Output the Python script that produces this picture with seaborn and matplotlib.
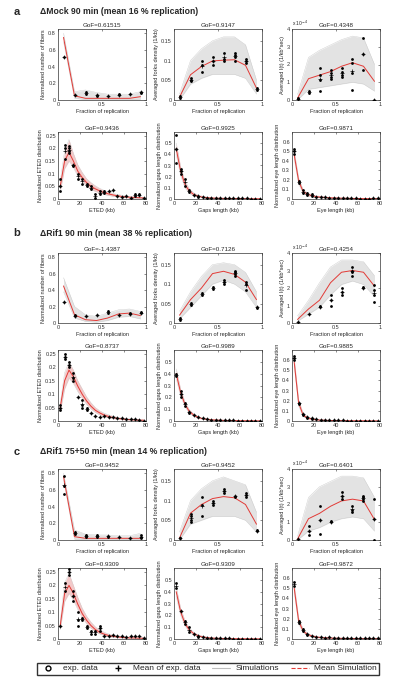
import matplotlib
matplotlib.use("Agg")
import matplotlib.pyplot as plt
from matplotlib.lines import Line2D
from matplotlib.ticker import FuncFormatter
import numpy as np
import pandas as pd
import seaborn as sns

# ── Data ─────────────────────────────────────────────────────────────

frac_x = [0.0625, 0.1875, 0.3125, 0.4375, 0.5625, 0.6875, 0.8125, 0.9375]
len_x = [2, 6, 10, 14, 18, 22, 26, 30, 34, 38, 42, 46, 50, 54, 58, 62, 66, 70, 74, 78]

panel_titles = [
    "\u0394Mock 90 min (mean 16 % replication)",
    "\u0394Rif1 90 min (mean 38 % replication)",
    "\u0394Rif1 75+50 min (mean 14 % replication)",
]
gof_a = ["GoF=0.61515", "GoF=0.9147", "GoF=0.4348", "GoF=0.9436", "GoF=0.9925", "GoF=0.9871"]
gof_b = ["GoF=-1.4387", "GoF=0.7126", "GoF=0.4254", "GoF=0.8737", "GoF=0.9989", "GoF=0.9885"]
gof_c = ["GoF=0.9452", "GoF=0.9452", "GoF=0.6401", "GoF=0.9309", "GoF=0.9309", "GoF=0.9872"]

# panel a
a_fib_sim = [0.75, 0.05, 0.02, 0.02, 0.02, 0.02, 0.02, 0.04]
a_fib_lo = [0.70, 0.02, 0.005, 0.005, 0.005, 0.005, 0.005, 0.01]
a_fib_hi = [0.80, 0.10, 0.12, 0.09, 0.07, 0.07, 0.07, 0.10]
a_fib_exp = [[0.51], [0.06], [0.07, 0.10], [0.05, 0.06], [0.05], [0.06, 0.07], [0.07], [0.08, 0.10]]

a_fork_sim = [0.007, 0.064, 0.085, 0.099, 0.101, 0.102, 0.088, 0.03]
a_fork_lo = [0.0, 0.04, 0.055, 0.065, 0.065, 0.065, 0.055, 0.015]
a_fork_hi = [0.015, 0.10, 0.13, 0.15, 0.16, 0.16, 0.14, 0.05]
a_fork_exp = [[0.005, 0.01], [0.047, 0.05, 0.055], [0.07, 0.09, 0.10], [0.09, 0.10, 0.11],
              [0.10, 0.105, 0.12], [0.10, 0.11, 0.115, 0.12], [0.095, 0.10, 0.105], [0.025, 0.03]]

a_it_sim = [0.1, 1.2, 1.4, 1.6, 1.9, 2.1, 1.9, 1.05]
a_it_lo = [0.0, 0.6, 0.7, 0.8, 0.9, 1.0, 0.9, 0.5]
a_it_hi = [0.3, 2.4, 2.8, 3.1, 3.4, 3.6, 3.5, 2.0]
a_it_exp = [[0.05, 0.1], [0.4, 0.5], [0.5, 1.1, 1.4, 1.8], [1.2, 1.3, 1.5, 1.7],
            [1.3, 1.4, 1.6, 1.8], [0.55, 1.5, 2.1, 2.3], [1.7, 2.6, 3.5], [0.0]]

a_eted_sim = [0.05, 0.15, 0.185, 0.15, 0.11, 0.085, 0.065, 0.05, 0.04, 0.032, 0.025, 0.02,
              0.016, 0.013, 0.010, 0.008, 0.007, 0.006, 0.005, 0.004]
a_eted_lo = [0.03, 0.12, 0.15, 0.125, 0.09, 0.07, 0.05, 0.038, 0.03, 0.024, 0.018, 0.014,
             0.011, 0.009, 0.007, 0.005, 0.004, 0.003, 0.003, 0.002]
a_eted_hi = [0.07, 0.19, 0.235, 0.18, 0.135, 0.105, 0.08, 0.065, 0.052, 0.042, 0.034, 0.028,
             0.022, 0.018, 0.015, 0.012, 0.01, 0.009, 0.008, 0.007]
a_eted_exp = [[0.03, 0.05, 0.08], [0.16, 0.20, 0.215], [0.18, 0.19, 0.20, 0.21], [0.13, 0.135],
              [0.08, 0.10], [0.06, 0.08], [0.05, 0.06], [0.04, 0.05], [0.005, 0.02], [0.02, 0.03],
              [0.025, 0.03], [0.03], [0.035], [0.01], [0.008], [0.01], [0.005], [0.01, 0.02],
              [0.015, 0.02], [0.005]]

a_gap_sim = [0.45, 0.25, 0.13, 0.07, 0.04, 0.025, 0.017, 0.012, 0.009, 0.007, 0.006, 0.005,
             0.004, 0.004, 0.003, 0.003, 0.002, 0.002, 0.002, 0.002]
a_gap_lo = [0.40, 0.21, 0.10, 0.05, 0.028, 0.016, 0.01, 0.007, 0.005, 0.004, 0.003, 0.002,
            0.002, 0.002, 0.001, 0.001, 0.001, 0.001, 0.001, 0.001]
a_gap_hi = [0.50, 0.29, 0.16, 0.09, 0.055, 0.036, 0.025, 0.018, 0.014, 0.011, 0.009, 0.008,
            0.007, 0.006, 0.005, 0.005, 0.004, 0.004, 0.003, 0.003]
a_gap_exp = [[0.32, 0.45, 0.57], [0.22, 0.25, 0.27], [0.12, 0.18], [0.06, 0.08], [0.04],
             [0.02, 0.03], [0.015], [0.01], [0.01], [0.01], [0.008], [0.01], [0.008], [0.006],
             [0.006], [0.005], [0.005], [0.004], [0.004], [0.003]]

a_eye_sim = [0.46, 0.19, 0.08, 0.05, 0.035, 0.025, 0.02, 0.016, 0.013, 0.011, 0.009, 0.008,
             0.007, 0.006, 0.005, 0.005, 0.004, 0.004, 0.003, 0.003]
a_eye_lo = [0.42, 0.16, 0.06, 0.035, 0.024, 0.017, 0.013, 0.01, 0.008, 0.006, 0.005, 0.004,
            0.004, 0.003, 0.003, 0.002, 0.002, 0.002, 0.001, 0.001]
a_eye_hi = [0.50, 0.22, 0.10, 0.065, 0.046, 0.034, 0.027, 0.022, 0.018, 0.015, 0.013, 0.011,
            0.01, 0.009, 0.008, 0.007, 0.006, 0.006, 0.005, 0.005]
a_eye_exp = [[0.47, 0.50, 0.52], [0.17, 0.19], [0.06, 0.09], [0.04, 0.06], [0.03, 0.05], [0.02],
             [0.02], [0.02], [0.015], [0.015], [0.012], [0.01], [0.01], [0.008], [0.006],
             [0.005], [0.005], [0.005], [0.01], [0.01]]

# panel b
b_fib_sim = [0.45, 0.10, 0.04, 0.03, 0.06, 0.11, 0.12, 0.09]
b_fib_lo = [0.38, 0.06, 0.02, 0.01, 0.03, 0.07, 0.08, 0.05]
b_fib_hi = [0.55, 0.20, 0.10, 0.08, 0.12, 0.16, 0.17, 0.14]
b_fib_exp = [[0.25], [0.08, 0.10], [0.08], [0.10], [0.12, 0.14], [0.10], [0.11, 0.12], [0.12, 0.13]]

b_fork_sim = [0.02, 0.06, 0.09, 0.127, 0.133, 0.125, 0.105, 0.06]
b_fork_lo = [0.01, 0.04, 0.07, 0.10, 0.11, 0.10, 0.08, 0.04]
b_fork_hi = [0.03, 0.08, 0.12, 0.15, 0.155, 0.15, 0.13, 0.08]
b_fork_exp = [[0.008, 0.012], [0.047, 0.052], [0.072, 0.076], [0.088, 0.093], [0.10, 0.105, 0.11],
              [0.12, 0.125, 0.13, 0.135], [0.085, 0.10, 0.105], [0.038, 0.042]]

b_it_sim = [0.2, 0.8, 1.3, 2.3, 2.9, 3.0, 2.9, 2.1]
b_it_lo = [0.1, 0.5, 0.9, 1.6, 2.2, 2.4, 2.2, 1.5]
b_it_hi = [0.4, 1.3, 2.3, 3.2, 3.6, 3.6, 3.5, 2.7]
b_it_exp = [[0.05], [0.5], [0.9, 0.95], [1.0, 1.3, 1.6], [1.6, 1.8, 2.0], [2.7, 2.9, 3.0, 3.2],
            [2.0, 2.05], [1.2, 1.6, 1.9, 2.2]]

b_eted_sim = [0.05, 0.15, 0.19, 0.165, 0.13, 0.10, 0.075, 0.055, 0.04, 0.03, 0.022, 0.017,
              0.013, 0.010, 0.008, 0.006, 0.005, 0.004, 0.003, 0.003]
b_eted_lo = [0.035, 0.12, 0.16, 0.14, 0.11, 0.085, 0.062, 0.045, 0.032, 0.023, 0.016, 0.012,
             0.009, 0.007, 0.005, 0.004, 0.003, 0.002, 0.002, 0.001]
b_eted_hi = [0.065, 0.18, 0.22, 0.19, 0.15, 0.12, 0.09, 0.068, 0.05, 0.038, 0.029, 0.023,
             0.018, 0.014, 0.011, 0.009, 0.008, 0.007, 0.006, 0.005]
b_eted_exp = [[0.04, 0.05, 0.06], [0.23, 0.24, 0.25], [0.20, 0.21, 0.22], [0.15, 0.16, 0.18],
              [0.09], [0.05, 0.06, 0.08], [0.04, 0.05], [0.03], [0.02], [0.015], [0.02], [0.015],
              [0.015], [0.01], [0.01], [0.008], [0.006], [0.006], [0.005], [0.0]]

b_gap_sim = [0.40, 0.24, 0.14, 0.08, 0.05, 0.03, 0.02, 0.015, 0.01, 0.008, 0.006, 0.005,
             0.004, 0.003, 0.003, 0.002, 0.002, 0.002, 0.001, 0.001]
b_gap_lo = [0.36, 0.21, 0.12, 0.065, 0.04, 0.023, 0.015, 0.01, 0.007, 0.005, 0.004, 0.003,
            0.002, 0.002, 0.001, 0.001, 0.001, 0.001, 0.0, 0.0]
b_gap_hi = [0.44, 0.27, 0.16, 0.095, 0.06, 0.038, 0.026, 0.02, 0.014, 0.011, 0.009, 0.007,
            0.006, 0.005, 0.004, 0.004, 0.003, 0.003, 0.002, 0.002]
b_gap_exp = [[0.38, 0.40], [0.20, 0.23, 0.25], [0.13, 0.15], [0.07, 0.08], [0.05], [0.03],
             [0.025], [0.015], [0.01], [0.01], [0.008], [0.006], [0.005], [0.005], [0.004],
             [0.004], [0.003], [0.003], [0.002], [0.002]]

b_eye_sim = [0.58, 0.18, 0.06, 0.03, 0.02, 0.012, 0.009, 0.007, 0.005, 0.004, 0.004, 0.003,
             0.003, 0.002, 0.002, 0.002, 0.002, 0.001, 0.001, 0.001]
b_eye_lo = [0.54, 0.15, 0.045, 0.02, 0.012, 0.007, 0.005, 0.004, 0.003, 0.002, 0.002, 0.001,
            0.001, 0.001, 0.001, 0.001, 0.0, 0.0, 0.0, 0.0]
b_eye_hi = [0.62, 0.21, 0.08, 0.042, 0.028, 0.018, 0.014, 0.011, 0.008, 0.007, 0.006, 0.005,
            0.005, 0.004, 0.004, 0.003, 0.003, 0.003, 0.002, 0.002]
b_eye_exp = [[0.60, 0.62, 0.64], [0.17, 0.18], [0.06, 0.07], [0.03, 0.04], [0.02, 0.03], [0.015],
             [0.01], [0.01], [0.008], [0.006], [0.005], [0.005], [0.004], [0.004], [0.003],
             [0.003], [0.003], [0.002], [0.002], [0.002]]

# panel c
c_fib_sim = [0.76, 0.04, 0.02, 0.02, 0.02, 0.02, 0.02, 0.02]
c_fib_lo = [0.72, 0.01, 0.005, 0.005, 0.005, 0.005, 0.005, 0.005]
c_fib_hi = [0.80, 0.12, 0.07, 0.06, 0.06, 0.05, 0.05, 0.08]
c_fib_exp = [[0.55, 0.65, 0.77], [0.07, 0.10], [0.03, 0.05, 0.06], [0.04, 0.05, 0.06],
             [0.04, 0.05], [0.03], [0.02], [0.02, 0.03, 0.06]]

c_fork_sim = [0.005, 0.068, 0.09, 0.105, 0.11, 0.107, 0.09, 0.04]
c_fork_lo = [0.0, 0.04, 0.05, 0.06, 0.06, 0.06, 0.05, 0.02]
c_fork_hi = [0.02, 0.10, 0.13, 0.15, 0.16, 0.15, 0.14, 0.07]
c_fork_exp = [[0.004, 0.006], [0.045, 0.05, 0.06, 0.065], [0.06, 0.09, 0.11], [0.09, 0.095, 0.10],
              [0.12, 0.125, 0.13], [0.11, 0.112], [0.11, 0.115, 0.12], [0.022, 0.025]]

c_it_sim = [0.05, 1.2, 1.5, 1.9, 2.2, 2.3, 2.2, 1.15]
c_it_lo = [0.0, 0.5, 0.7, 1.0, 1.2, 1.3, 1.2, 0.5]
c_it_hi = [0.2, 2.4, 3.0, 3.3, 3.6, 3.6, 3.5, 2.4]
c_it_exp = [[0.05], [0.3, 0.5, 0.8], [0.35, 1.1, 1.9], [1.0, 1.05], [2.3, 2.5, 2.7],
            [1.6, 1.7, 1.9], [2.2, 2.3, 2.4, 2.5], [0.0, 1.2, 2.3]]

c_eted_sim = [0.05, 0.17, 0.20, 0.17, 0.13, 0.095, 0.07, 0.05, 0.035, 0.025, 0.018, 0.013,
              0.010, 0.008, 0.006, 0.005, 0.004, 0.004, 0.003, 0.003]
c_eted_lo = [0.035, 0.14, 0.17, 0.145, 0.11, 0.08, 0.057, 0.04, 0.027, 0.019, 0.013, 0.009,
             0.007, 0.005, 0.004, 0.003, 0.002, 0.002, 0.001, 0.001]
c_eted_hi = [0.065, 0.21, 0.245, 0.20, 0.155, 0.115, 0.085, 0.063, 0.045, 0.034, 0.025, 0.019,
             0.015, 0.012, 0.01, 0.008, 0.007, 0.006, 0.005, 0.005]
c_eted_exp = [[0.05], [0.18, 0.21], [0.24, 0.25, 0.26], [0.14, 0.16, 0.18], [0.05, 0.07, 0.10],
              [0.07, 0.08], [0.04, 0.05], [0.02, 0.03], [0.02, 0.03], [0.03, 0.04, 0.05], [0.01],
              [0.01], [0.015], [0.01], [0.01], [0.008], [0.01], [0.01], [0.012], [0.005]]

c_gap_sim = [0.40, 0.23, 0.13, 0.075, 0.045, 0.028, 0.018, 0.012, 0.008, 0.006, 0.005, 0.004,
             0.003, 0.003, 0.002, 0.002, 0.002, 0.001, 0.001, 0.001]
c_gap_lo = [0.36, 0.20, 0.11, 0.06, 0.035, 0.02, 0.012, 0.008, 0.005, 0.004, 0.003, 0.002,
            0.002, 0.001, 0.001, 0.001, 0.001, 0.0, 0.0, 0.0]
c_gap_hi = [0.44, 0.26, 0.155, 0.09, 0.056, 0.036, 0.025, 0.018, 0.013, 0.01, 0.008, 0.007,
            0.006, 0.005, 0.004, 0.004, 0.003, 0.003, 0.002, 0.002]
c_gap_exp = [[0.43, 0.47], [0.24], [0.13, 0.15], [0.06, 0.10], [0.04], [0.02, 0.025], [0.02],
             [0.01], [0.01], [0.008], [0.006], [0.005], [0.005], [0.004], [0.004], [0.003],
             [0.003], [0.003], [0.002], [0.002]]

c_eye_sim = [0.50, 0.18, 0.08, 0.045, 0.03, 0.02, 0.015, 0.012, 0.01, 0.008, 0.007, 0.006,
             0.005, 0.005, 0.004, 0.004, 0.003, 0.003, 0.003, 0.002]
c_eye_lo = [0.46, 0.15, 0.065, 0.035, 0.022, 0.014, 0.01, 0.008, 0.006, 0.005, 0.004, 0.003,
            0.003, 0.002, 0.002, 0.002, 0.001, 0.001, 0.001, 0.001]
c_eye_hi = [0.54, 0.21, 0.10, 0.058, 0.04, 0.028, 0.021, 0.017, 0.014, 0.012, 0.01, 0.009,
            0.008, 0.007, 0.006, 0.006, 0.005, 0.005, 0.004, 0.004]
c_eye_exp = [[0.52, 0.56], [0.16, 0.18], [0.08, 0.10], [0.04, 0.05], [0.03], [0.02], [0.015],
             [0.012], [0.02], [0.01], [0.01], [0.01], [0.008], [0.008], [0.01], [0.01], [0.005],
             [0.005], [0.005], [0.005]]

# ── Theme ────────────────────────────────────────────────────────────

sns.set_theme(style="white")
plt.rcParams["font.family"] = ["Liberation Sans", "DejaVu Sans"]
plt.rcParams.update({
    "xtick.direction": "in",
    "ytick.direction": "in",
    "xtick.major.size": 1.5,
    "ytick.major.size": 1.5,
    "xtick.major.width": 0.4,
    "ytick.major.width": 0.4,
    "xtick.major.pad": 1.5,
    "ytick.major.pad": 1.5,
    "axes.linewidth": 0.5,
    "axes.edgecolor": "#333333",
})

RED = "#e23a36"
GREY_BAND = "#dedede"
PINK_BAND = "#f1c0c0"
W, H = 398, 688

# per-column axis setup: (xlabel, ylabel, ylim, yticks)
top_cols = [
    ("Fraction of replication", "Normalized number of fibers", (0, 0.85), [0, 0.2, 0.4, 0.6, 0.8]),
    ("Fraction of replication", "Averaged forks density (1/kb)", (0, 0.18), [0, 0.05, 0.1, 0.15]),
    ("Fraction of replication", "Averaged I(t) (1/kb*sec)", (0, 4), [0, 1, 2, 3, 4]),
]
bot_cols = [
    ("ETED (kb)", "Normalized ETED distribution", (0, 0.265), [0, 0.05, 0.1, 0.15, 0.2, 0.25]),
    ("Gaps length (kb)", "Normalized gaps length distribution", (0, 0.6), [0, 0.1, 0.2, 0.3, 0.4, 0.5]),
    ("Eye length (kb)", "Normalized eye length distribution", (0, 0.7), [0, 0.1, 0.2, 0.3, 0.4, 0.5, 0.6]),
]

panels = [
    ("a", gof_a, [(a_fib_sim, a_fib_lo, a_fib_hi, a_fib_exp),
                  (a_fork_sim, a_fork_lo, a_fork_hi, a_fork_exp),
                  (a_it_sim, a_it_lo, a_it_hi, a_it_exp)],
                 [(a_eted_sim, a_eted_lo, a_eted_hi, a_eted_exp),
                  (a_gap_sim, a_gap_lo, a_gap_hi, a_gap_exp),
                  (a_eye_sim, a_eye_lo, a_eye_hi, a_eye_exp)]),
    ("b", gof_b, [(b_fib_sim, b_fib_lo, b_fib_hi, b_fib_exp),
                  (b_fork_sim, b_fork_lo, b_fork_hi, b_fork_exp),
                  (b_it_sim, b_it_lo, b_it_hi, b_it_exp)],
                 [(b_eted_sim, b_eted_lo, b_eted_hi, b_eted_exp),
                  (b_gap_sim, b_gap_lo, b_gap_hi, b_gap_exp),
                  (b_eye_sim, b_eye_lo, b_eye_hi, b_eye_exp)]),
    ("c", gof_c, [(c_fib_sim, c_fib_lo, c_fib_hi, c_fib_exp),
                  (c_fork_sim, c_fork_lo, c_fork_hi, c_fork_exp),
                  (c_it_sim, c_it_lo, c_it_hi, c_it_exp)],
                 [(c_eted_sim, c_eted_lo, c_eted_hi, c_eted_exp),
                  (c_gap_sim, c_gap_lo, c_gap_hi, c_gap_exp),
                  (c_eye_sim, c_eye_lo, c_eye_hi, c_eye_exp)]),
]

# pixel layout
col_left = [58, 174, 292]
col_width = 88
row_tops = [(29, 100, 132, 199), (253, 323, 350, 421), (469, 540, 568, 639)]
label_y = [12, 233, 452]

fmt = FuncFormatter(lambda v, p: f"{v:g}")


def px_axes(fig, left, top, bottom):
    return fig.add_axes([left / W, 1 - bottom / H, col_width / W, (bottom - top) / H])


def draw(ax, x, sim, lo, hi, exp, band):
    ax.fill_between(x, lo, hi, color=band, lw=0, alpha=0.85)
    ax.plot(x, lo, color="#cacaca", lw=0.3)
    ax.plot(x, hi, color="#cacaca", lw=0.3)
    rows = [(xv, yv) for xv, vals in zip(x, exp) for yv in vals]
    df = pd.DataFrame(rows, columns=["x", "y"])
    sns.scatterplot(data=df, x="x", y="y", ax=ax, marker="o", s=4, color="black",
                    linewidth=0, legend=False, zorder=4)
    means = df.groupby("x", as_index=False)["y"].mean()
    sns.scatterplot(data=means, x="x", y="y", ax=ax, marker="+", s=7, color="black",
                    linewidth=0.5, legend=False, zorder=5)
    sns.lineplot(x=x, y=sim, ax=ax, color=RED, lw=0.7, zorder=3)


def style(ax, xlabel, ylabel, ylim, yticks, xlim, xticks, title):
    ax.set_xlim(*xlim)
    ax.set_ylim(*ylim)
    ax.set_xticks(xticks)
    ax.set_yticks(yticks)
    ax.xaxis.set_major_formatter(fmt)
    ax.yaxis.set_major_formatter(fmt)
    ax.tick_params(labelsize=4, top=True, right=True, colors="#333333")
    ax.set_xlabel(xlabel, fontsize=4, labelpad=1.5)
    ax.set_ylabel(ylabel, fontsize=4, labelpad=1.5)
    ax.set_title(title, fontsize=4.5, pad=1.5)
    for s in ax.spines.values():
        s.set_visible(True)


fig = plt.figure(figsize=(W / 100, H / 100), dpi=100)

for p, (letter, gofs, top_data, bot_data) in enumerate(panels):
    fig.text(17 / W, 1 - label_y[p] / H, letter, fontsize=8, fontweight="bold",
             ha="center", va="center")
    fig.text(40 / W, 1 - label_y[p] / H, panel_titles[p], fontsize=6.2, fontweight="bold",
             ha="left", va="center")
    t1, b1, t2, b2 = row_tops[p]
    for c in range(3):
        ax = px_axes(fig, col_left[c], t1, b1)
        sim, lo, hi, exp = top_data[c]
        draw(ax, frac_x, sim, lo, hi, exp, GREY_BAND)
        xl, yl, ylim, yt = top_cols[c]
        style(ax, xl, yl, ylim, yt, (0, 1), [0, 0.5, 1], gofs[c])
        if c == 2:
            ax.text(0.0, 1.01, "x 10$^{-4}$", transform=ax.transAxes, fontsize=3.5,
                    ha="left", va="bottom")
        ax = px_axes(fig, col_left[c], t2, b2)
        sim, lo, hi, exp = bot_data[c]
        draw(ax, len_x, sim, lo, hi, exp, PINK_BAND)
        xl, yl, ylim, yt = bot_cols[c]
        style(ax, xl, yl, ylim, yt, (0, 80), [0, 20, 40, 60, 80], gofs[c + 3])

handles = [
    Line2D([], [], ls="none", marker="o", mfc="none", mec="black", ms=3.5, mew=1),
    Line2D([], [], ls="none", marker="+", color="black", ms=4, mew=1),
    Line2D([], [], color="#bdbdbd", lw=0.8),
    Line2D([], [], color=RED, lw=0.8, ls="--"),
]
labels = ["exp. data", "Mean of exp. data", "Simulations", "Mean Simulation"]
leg = fig.legend(handles, labels, loc="center", ncol=4, mode="expand",
                 bbox_to_anchor=(33 / W, 1 - 675 / H, 350 / W, 13 / H),
                 fontsize=6, frameon=True, fancybox=False, edgecolor="black",
                 borderpad=0.25, handlelength=2.2, handletextpad=0.6, columnspacing=1.0)
leg.get_frame().set_linewidth(1.0)

fig.savefig("out.png", dpi=100, facecolor="white")
